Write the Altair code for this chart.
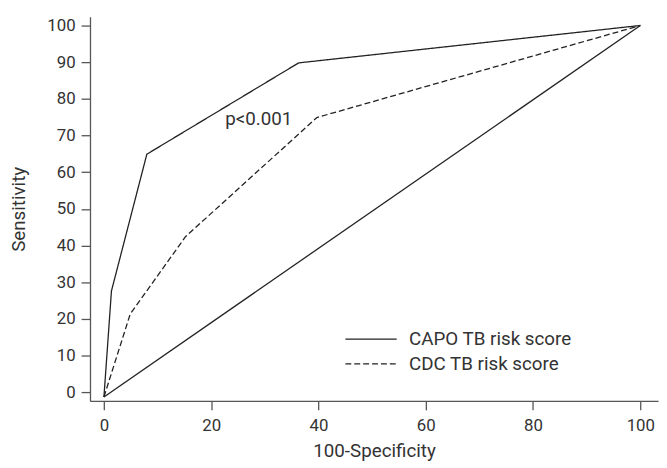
import altair as alt
import pandas as pd

series = ["CAPO TB risk score", "CDC TB risk score"]
fpr_capo = [0, 1.4, 8.0, 36.3, 100]
tpr_capo = [-1.3, 27.6, 64.9, 89.8, 100]
fpr_cdc = [0, 4.9, 15.2, 39.7, 100]
tpr_cdc = [-1.3, 21.3, 42.4, 74.9, 100]
fpr_ref = [0, 100]
tpr_ref = [-1.3, 100]
x_ticks = [0, 20, 40, 60, 80, 100]
y_ticks = [0, 10, 20, 30, 40, 50, 60, 70, 80, 90, 100]
annot_text = ["p<0.001"]
annot_x = [22.6]
annot_y = [74.4]

rows = []
for name, xs_, ys_ in [(series[0], fpr_capo, tpr_capo), (series[1], fpr_cdc, tpr_cdc)]:
    for i, (a, b) in enumerate(zip(xs_, ys_)):
        rows.append({"series": name, "fpr": a, "tpr": b, "idx": i})
df = pd.DataFrame(rows)
ref = pd.DataFrame({"fpr": fpr_ref, "tpr": tpr_ref, "idx": list(range(len(fpr_ref)))})
ann = pd.DataFrame({"x": annot_x, "y": annot_y, "t": annot_text})

FONT = "Roboto"
TXT = "#333333"
LINE = "#222222"

xs = alt.Scale(domain=[-2.6, 103.3], nice=False, zero=False)
ys = alt.Scale(domain=[-2.4, 102.4], nice=False, zero=False)

xax = alt.Axis(values=x_ticks, title="100-Specificity", grid=False, tickSize=9,
               labelPadding=8, titlePadding=8, labelOverlap=False, labelFlush=False)
yax = alt.Axis(values=y_ticks, title="Sensitivity", grid=False, tickSize=9,
               labelPadding=6, titlePadding=19, labelOverlap=False, labelFlush=False)

X = lambda f: alt.X(f, scale=xs, axis=xax)
Y = lambda f: alt.Y(f, scale=ys, axis=yax)

lines = alt.Chart(df).mark_line(strokeWidth=1.3, color=LINE).encode(
    x=X("fpr:Q"),
    y=Y("tpr:Q"),
    strokeDash=alt.StrokeDash(
        "series:N",
        scale=alt.Scale(domain=series, range=[[1, 0], [6, 3]]),
        legend=alt.Legend(
            title=None, orient="none", legendX=275, legendY=317,
            symbolType="M-5,0H5", symbolSize=108, symbolStrokeWidth=1.3,
            symbolStrokeColor=LINE, symbolFillColor="transparent",
            labelFontSize=19, labelFont=FONT, labelLimit=400,
            labelColor=TXT, labelOffset=29, rowPadding=5,
        ),
    ),
    order="idx:Q",
)

diag = alt.Chart(ref).mark_line(strokeWidth=1.3, color=LINE).encode(
    x=X("fpr:Q"),
    y=Y("tpr:Q"),
    order="idx:Q",
)

text = alt.Chart(ann).mark_text(align="left", baseline="middle", fontSize=19,
                                font=FONT, color=TXT).encode(
    x=X("x:Q"),
    y=Y("y:Q"),
    text="t:N",
)

chart = alt.layer(lines, diag, text).properties(
    width=575, height=389,
    autosize=alt.AutoSizeParams(type="none"),
    padding={"left": 83, "top": 6, "right": 1, "bottom": 60},
).configure_view(stroke=None).configure_axis(
    labelFont=FONT, titleFont=FONT, labelFontSize=17, titleFontSize=19,
    labelColor=TXT, titleColor=TXT, titleFontWeight="normal",
    domainColor="#555555", tickColor="#555555", domainWidth=1.3, tickWidth=1.3,
)

chart.save("out.html", embed_options={"renderer": "svg", "actions": False})
